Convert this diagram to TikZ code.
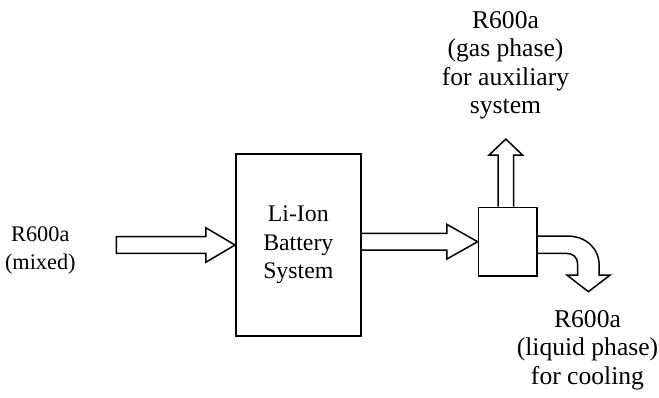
\documentclass[tikz,border=0pt]{standalone}
\usepackage{fontspec}
\setmainfont{Liberation Serif}
\usetikzlibrary{calc}
\begin{document}
\begin{tikzpicture}[x=1bp,y=-1bp,
  lbl/.style={font=\fontsize{25.6bp}{28.4bp}\selectfont, align=center, inner sep=0pt, anchor=north},
  boxn/.style={draw, line width=1.8bp, inner sep=0pt},
  arr/.style={draw, line width=1.5bp, line join=miter}]
\useasboundingbox (0,0) rectangle (659,397);
% boxes
\node[boxn, minimum width=124.7bp, minimum height=182bp,
      font=\fontsize{23.8bp}{28.4bp}\selectfont, align=center] (bat) at (298.3,245) {Li-Ion\\Battery\\System};
\node[boxn, minimum width=58.2bp, minimum height=68.5bp] (sep) at (507.6,241.7) {};
% labels
\node[lbl, font=\fontsize{22.3bp}{27.6bp}\selectfont] (lin) at (40.3,226.6) {R600a\\(mixed)};
\node[lbl] (lgas) at (505.5,11) {R600a\\(gas phase)\\for auxiliary\\system};
\node[lbl] (lliq) at (587.5,310) {R600a\\(liquid phase)\\for cooling};
% input arrow
\coordinate (tin) at (bat.west);
\draw[arr] ($(tin)+(-118.7,-8.3)$) -- ($(tin)+(-29.3,-8.3)$) -- ($(tin)+(-29.3,-17.3)$)
  -- (tin) -- ($(tin)+(-29.3,17.3)$) -- ($(tin)+(-29.3,8.3)$) -- ($(tin)+(-118.7,8.3)$) -- cycle;
% middle arrow
\coordinate (tmid) at (sep.west);
\coordinate (smid) at (bat.east|-sep.west);
\draw[arr] ($(smid)+(0,-8.3)$) -- ($(tmid)+(-30.7,-8.3)$) -- ($(tmid)+(-30.7,-17.3)$)
  -- (tmid) -- ($(tmid)+(-30.7,17.3)$) -- ($(tmid)+(-30.7,8.3)$) -- ($(smid)+(0,8.3)$);
% up arrow
\coordinate (bup) at ($(sep.north)+(-1.8,0)$);
\draw[arr] ($(bup)+(-7.8,0)$) -- ($(bup)+(-7.8,-51.5)$) -- ($(bup)+(-16.7,-51.5)$)
  -- ($(bup)+(0,-67.5)$) -- ($(bup)+(16.7,-51.5)$) -- ($(bup)+(7.8,-51.5)$) -- ($(bup)+(7.8,0)$);
% curved down arrow
\coordinate (bc) at (sep.east);
\draw[arr] ($(bc)+(0,-5.7)$) -- ($(bc)+(29.3,-5.7)$)
  .. controls ($(bc)+(48.3,-5.7)$) and ($(bc)+(61.6,6.3)$) .. ($(bc)+(61.6,24.3)$)
  -- ($(bc)+(61.6,33.3)$) -- ($(bc)+(72.6,33.3)$) -- ($(bc)+(50.8,50)$)
  -- ($(bc)+(29.3,33.3)$) -- ($(bc)+(40,33.3)$) -- ($(bc)+(40,22.3)$)
  .. controls ($(bc)+(40,15.3)$) and ($(bc)+(35.3,11.6)$) .. ($(bc)+(28.3,11.6)$)
  -- ($(bc)+(0,11.6)$);
\end{tikzpicture}
\end{document}
